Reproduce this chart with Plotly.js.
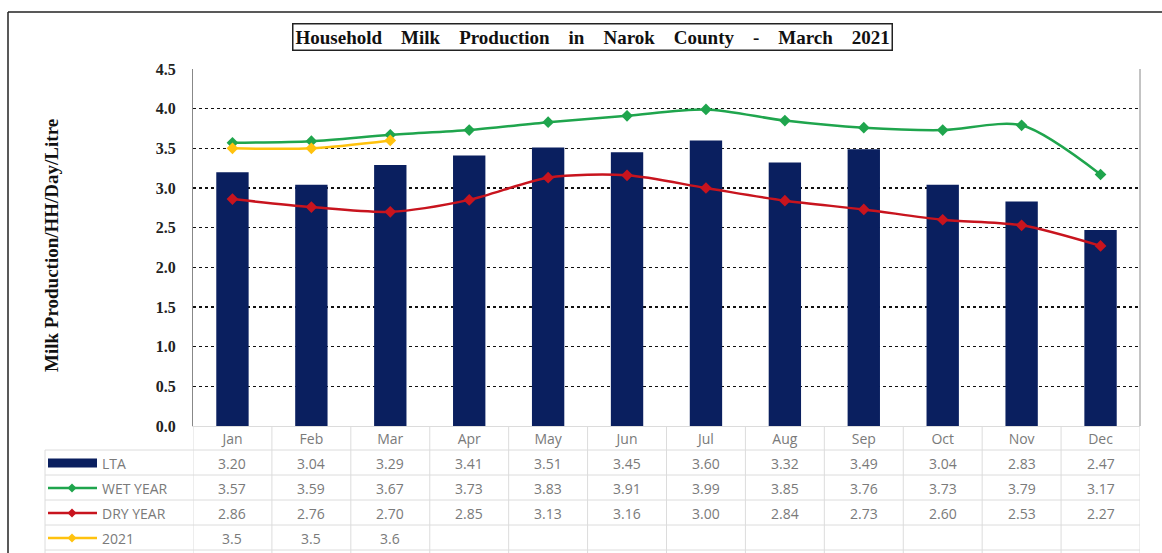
<!DOCTYPE html>
<html><head><meta charset="utf-8">
<script src="https://cdn.plot.ly/plotly-3.0.1.min.js"></script>
<style>body{margin:0;background:#fff}#c{width:1162px;height:553px}</style>
</head><body><div id="c"></div>
<script>
const months = ["Jan","Feb","Mar","Apr","May","Jun","Jul","Aug","Sep","Oct","Nov","Dec"];
const lta = [3.20,3.04,3.29,3.41,3.51,3.45,3.60,3.32,3.49,3.04,2.83,2.47];
const wetYear = [3.57,3.59,3.67,3.73,3.83,3.91,3.99,3.85,3.76,3.73,3.79,3.17];
const dryYear = [2.86,2.76,2.70,2.85,3.13,3.16,3.00,2.84,2.73,2.60,2.53,2.27];
const y2021 = [3.5,3.5,3.6];
const y2021Labels = ["3.5","3.5","3.6"];
const seriesNames = ["LTA","WET YEAR","DRY YEAR","2021"];

const navy = "#0a1f5f", green = "#1fa54d", red = "#c8141e", yellow = "#ffc20e";
const xi = months.map((m,i)=>i);

const traces = [
  {type:"bar", x:xi, y:lta, marker:{color:navy}, width:0.41, name:"LTA", hoverinfo:"y"},
  {type:"scatter", mode:"lines+markers", x:xi, y:wetYear, line:{color:green,width:2.5,shape:"spline",smoothing:0.8}, marker:{symbol:"diamond",size:9,color:green}, name:"WET YEAR"},
  {type:"scatter", mode:"lines+markers", x:xi, y:dryYear, line:{color:red,width:2.5,shape:"spline",smoothing:0.8}, marker:{symbol:"diamond",size:9,color:red}, name:"DRY YEAR"},
  {type:"scatter", mode:"lines+markers", x:xi.slice(0,y2021.length), y:y2021, line:{color:yellow,width:2.5,shape:"spline",smoothing:0.8}, marker:{symbol:"diamond",size:9,color:yellow}, name:"2021"}
];

const L=193, R=1140, T=69, B=426, H=B-T, W=R-L;
const py = p => (B - p)/H;
const px = p => (p - L)/W;

const rowY = [463, 488, 513, 538];
const rowLines = [450, 475, 500, 525, 550];
const textColor = "#7a7a7a";
const tfont = {family:"Open Sans, Noto Sans, sans-serif",size:14,color:textColor};

const annotations = [];
const shapes = [];

const rows = [
  lta.map(v=>v.toFixed(2)),
  wetYear.map(v=>v.toFixed(2)),
  dryYear.map(v=>v.toFixed(2)),
  y2021Labels
];
rows.forEach((r,ri)=>{
  r.forEach((t,ci)=>{
    annotations.push({xref:"x",yref:"paper",x:ci,y:py(rowY[ri]),text:t,showarrow:false,
      font:tfont,xanchor:"center",yanchor:"middle"});
  });
  annotations.push({xref:"paper",yref:"paper",x:px(100),y:py(rowY[ri]),text:seriesNames[ri],showarrow:false,
    font:tfont,xanchor:"left",yanchor:"middle"});
});

rowLines.forEach(p=>{
  shapes.push({type:"line",xref:"paper",yref:"paper",x0:px(45),x1:1,y0:py(p),y1:py(p),line:{color:"#dcdcdc",width:1}});
});
for(let k=0;k<=12;k++){
  shapes.push({type:"line",xref:"x",yref:"paper",x0:k-0.5,x1:k-0.5,y0:0,y1:py(553),line:{color:"#dcdcdc",width:1}});
}
shapes.push({type:"line",xref:"paper",yref:"paper",x0:px(45),x1:px(45),y0:py(450),y1:py(553),line:{color:"#dcdcdc",width:1}});

const keyColors=[navy,green,red,yellow];
rowY.forEach((p,i)=>{
  if(i===0){
    shapes.push({type:"rect",xref:"paper",yref:"paper",x0:px(48),x1:px(97),y0:py(p+4.5),y1:py(p-4.5),fillcolor:navy,line:{width:0}});
  } else {
    shapes.push({type:"line",xref:"paper",yref:"paper",x0:px(48),x1:px(97),y0:py(p),y1:py(p),line:{color:keyColors[i],width:2.5}});
    const cx=72, h=4.5;
    shapes.push({type:"path",xref:"paper",yref:"paper",
      path:`M ${px(cx-h)} ${py(p)} L ${px(cx)} ${py(p-h)} L ${px(cx+h)} ${py(p)} L ${px(cx)} ${py(p+h)} Z`,
      fillcolor:keyColors[i],line:{width:0}});
  }
});

shapes.push({type:"line",xref:"paper",yref:"paper",x0:px(8),x1:px(1162),y0:py(12),y1:py(12),line:{color:"#222",width:1.5}});
shapes.push({type:"line",xref:"paper",yref:"paper",x0:px(8),x1:px(8),y0:py(12),y1:py(553),line:{color:"#222",width:1.5}});
shapes.push({type:"line",xref:"paper",yref:"paper",x0:1,x1:1,y0:0,y1:1,line:{color:"#888",width:1}});

const sp = "&nbsp;&nbsp;&nbsp;&nbsp;";
annotations.push({xref:"paper",yref:"paper",x:px(592),y:py(37),
  text:"<b>"+["Household","Milk","Production","in","Narok","County","-","March","2021"].join(sp)+"</b>",
  showarrow:false,font:{family:"Liberation Serif, Times New Roman, serif",size:19,color:"#111"},
  bordercolor:"#222",borderwidth:1.5,borderpad:2,bgcolor:"#fff",xanchor:"center",yanchor:"middle"});
annotations.push({xref:"paper",yref:"paper",x:px(51),y:py(246),text:"<b>Milk Production/HH/Day/Litre</b>",textangle:-90,
  showarrow:false,font:{family:"Liberation Serif, Times New Roman, serif",size:19,color:"#111"},xanchor:"center",yanchor:"middle"});

const layout = {
  width:1162, height:553,
  margin:{l:L,r:1162-R,t:T,b:553-B,pad:0},
  paper_bgcolor:"#fff", plot_bgcolor:"#fff",
  showlegend:false,
  xaxis:{tickmode:"array",tickvals:xi,ticktext:months,range:[-0.5,11.5],showgrid:false,zeroline:false,
    showline:true,linecolor:"#dcdcdc",linewidth:1,ticks:"",
    tickfont:{family:"Open Sans, Noto Sans, sans-serif",size:14,color:textColor}},
  yaxis:{range:[0,4.5],dtick:0.5,tickformat:".1f",showgrid:true,gridcolor:"#111",griddash:"dot",gridwidth:1.5,
    zeroline:false,showline:true,linecolor:"#888",linewidth:1,ticks:"",ticklabelstandoff:13,
    tickfont:{family:"Liberation Serif, Times New Roman, serif",size:16,color:"#222",weight:"bold"}},
  annotations, shapes
};
Plotly.newPlot("c", traces, layout, {displayModeBar:false, staticPlot:true});
</script></body></html>
